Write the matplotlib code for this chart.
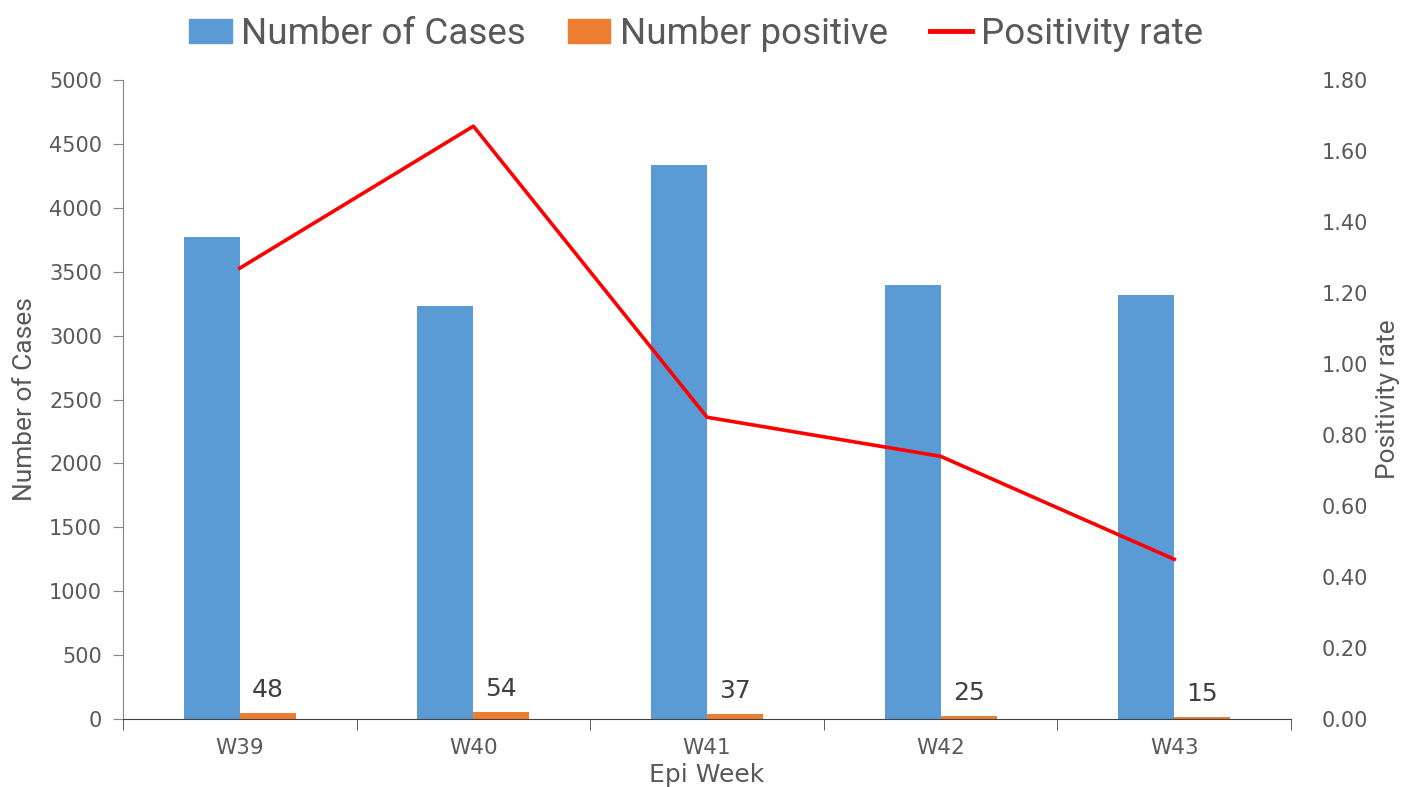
import matplotlib.pyplot as plt
import numpy as np
from matplotlib.lines import Line2D
from matplotlib.patches import Patch

weeks = ["W39", "W40", "W41", "W42", "W43"]
cases = [3772, 3232, 4335, 3396, 3318]
positive = [48, 54, 37, 25, 15]
rate = [1.27, 1.67, 0.85, 0.74, 0.45]

BLUE = "#5B9BD5"
ORANGE = "#ED7D31"
GREY = "#595959"
AXIS = "#868686"
NARROW = ["Roboto", "DejaVu Sans"]


def make_fig():
    fig = plt.figure(figsize=(14.07, 7.87), dpi=100)
    ax = fig.add_axes([0.0874, 0.0864, 0.8302, 0.8119])
    ax2 = ax.twinx()
    return fig, ax, ax2


fig, ax, ax2 = make_fig()
x = np.arange(len(weeks))
w = 0.24

ax.bar(x - w / 2, cases, w, color=BLUE, zorder=2)
ax.bar(x + w / 2, positive, w, color=ORANGE, zorder=2)
for xi, v in zip(x, positive):
    ax.annotate(str(v), xy=(xi + w / 2, v), xytext=(0, 8), textcoords="offset points",
                ha="center", va="bottom", fontsize=18, color="#404040")

ax2.plot(x, rate, color="red", linewidth=2.6, zorder=3)

ax.set_xlim(-0.5, len(weeks) - 0.5)
ax.set_ylim(0, 5000)
ax.set_yticks(np.arange(0, 5001, 500))
ax2.set_ylim(0, 1.8)
ax2.set_yticks(np.arange(0, 1.81, 0.2))
ax2.set_yticklabels([f"{t:.2f}" for t in np.arange(0, 1.81, 0.2)])

ax.set_xticks(x)
ax.set_xticklabels(weeks)
ax.set_xticks(np.arange(-0.5, len(weeks), 1), minor=True)
ax.tick_params(axis="x", which="major", length=0, pad=14, labelsize=15.5, labelcolor=GREY)
ax.tick_params(axis="x", which="minor", length=8, color="#404040", direction="out")
ax.tick_params(axis="y", length=7, color=AXIS, labelsize=15, labelcolor=GREY, pad=8)
ax2.tick_params(axis="y", length=0, labelsize=15, labelcolor=GREY, pad=22)

for a in (ax, ax2):
    a.spines["top"].set_visible(False)
    a.spines["right"].set_visible(False)
ax2.spines["left"].set_visible(False)
ax2.spines["bottom"].set_visible(False)
ax.spines["left"].set_color(AXIS)
ax.spines["bottom"].set_color("#404040")

ax.set_xlabel("Epi Week", fontsize=18, color=GREY, labelpad=3)
ax.set_ylabel("Number of Cases", fontsize=19, color=GREY, family=NARROW, labelpad=9)
ax2.set_ylabel("Positivity rate", fontsize=19, color=GREY, family=NARROW, labelpad=6)

handles = [Patch(color=BLUE), Patch(color=ORANGE), Line2D([], [], color="red", linewidth=3.5)]
labels = ["Number of Cases", "Number positive", "Positivity rate"]
fig.legend(handles, labels, loc="upper center", bbox_to_anchor=(0.495, 1.022), ncol=3,
           frameon=False, handlelength=1.15, handleheight=0.6, handletextpad=0.25,
           columnspacing=1.15, prop={"family": NARROW, "size": 26.5}, labelcolor=GREY)

fig.savefig("out.png", dpi=100)
